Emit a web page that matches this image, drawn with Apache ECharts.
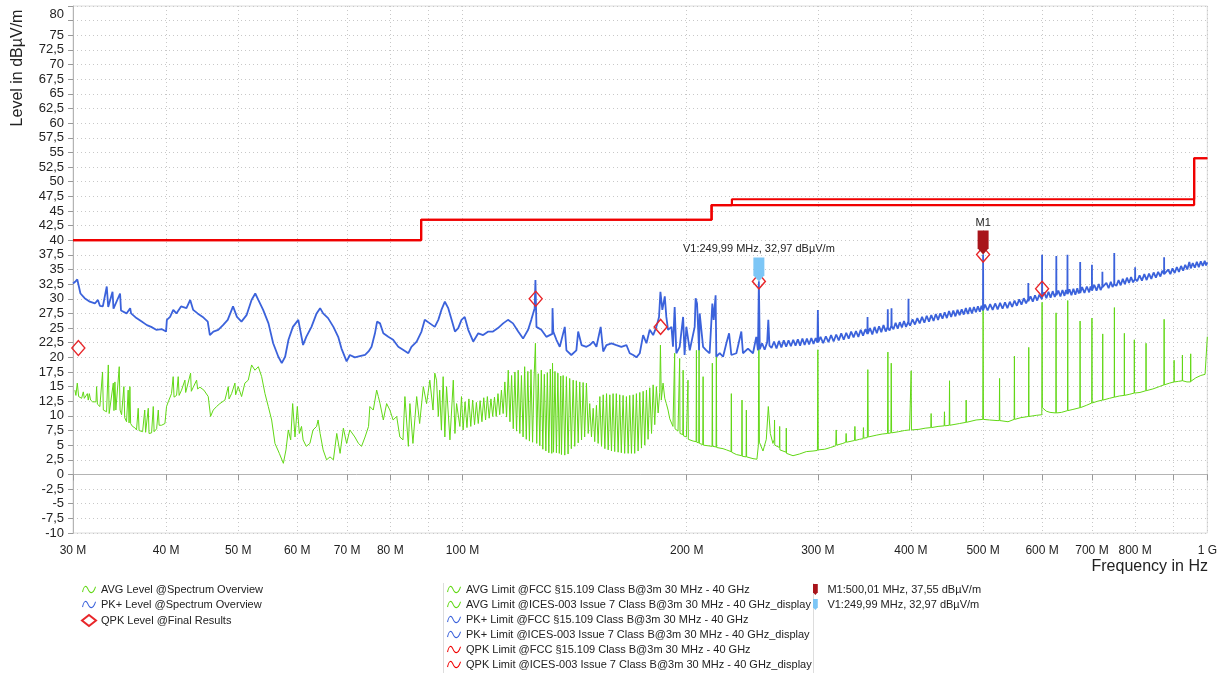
<!DOCTYPE html>
<html>
<head>
<meta charset="utf-8">
<title>Spectrum overview</title>
<script src="https://cdn.jsdelivr.net/npm/echarts@6/dist/echarts.min.js"></script>
<style>
  html, body { margin: 0; padding: 0; background: #fff; }
  #chart { width: 1220px; height: 675px; }
</style>
</head>
<body>
<div id="chart"></div>
<script>
// frequency in MHz, level in dBµV/m
var gridTicks = [30, 40, 50, 60, 70, 80, 90, 100, 200, 300, 400, 500, 600, 700, 800, 900, 1000];
var labelTicks = [30, 40, 50, 60, 70, 80, 100, 200, 300, 400, 500, 600, 700, 800, 1000];

var pkLevel = [
  [30.0,32.6],[30.2,32.9],[30.4,33.3],[30.7,30.9],[31.1,30.1],[31.6,29.5],[32.1,29.2],[32.4,29.8],[32.6,28.8],[32.9,28.7],
  [33.3,32.1],[33.45,28.6],[33.6,28.4],[33.9,31.2],[34.0,28.3],[34.2,28.1],[34.7,30.9],[34.8,28.0],[34.9,27.8],[35.4,27.5],
  [35.8,28.4],[35.9,27.5],[36.5,26.7],[37.1,26.1],[37.7,25.5],[38.2,25.2],[38.8,24.7],[39.5,24.8],[40.0,24.4],[40.1,26.4],
  [40.5,26.9],[40.9,28.1],[41.3,27.5],[41.9,28.7],[42.6,28.4],[43.1,29.8],[43.5,28.1],[44.1,27.5],[44.8,26.9],[45.5,26.1],
  [45.8,23.8],[46.3,24.4],[47.0,24.7],[47.7,25.5],[48.4,26.4],[49.2,28.7],[49.8,26.9],[50.5,26.1],[51.3,27.2],[52.1,29.8],
  [52.7,30.9],[53.2,29.8],[54.0,28.1],[54.9,25.8],[55.7,22.4],[56.6,20.1],[57.2,19.0],[57.8,20.1],[58.4,23.0],[59.2,25.2],
  [60.2,26.4],[60.8,23.5],[61.1,22.1],[61.7,23.5],[62.7,25.2],[63.7,27.5],[64.4,28.4],[65.0,27.5],[66.0,26.7],[67.1,25.2],
  [68.1,23.5],[68.8,21.5],[69.9,19.3],[70.6,20.4],[71.7,20.0],[72.8,20.2],[74.0,20.4],[74.8,21.0],[75.5,21.8],[76.3,24.1],
  [76.8,26.1],[77.5,25.8],[78.3,24.1],[79.5,23.5],[80.7,23.0],[82.0,21.8],[83.2,21.3],[84.6,20.7],[85.4,21.8],[86.8,22.7],
  [88.1,24.4],[89.0,26.4],[90.4,25.8],[91.8,25.2],[92.8,26.4],[93.7,28.1],[94.7,29.5],[95.7,28.4],[96.7,26.4],[97.7,24.4],
  [98.7,25.0],[99.7,26.4],[100.7,26.9],[101.8,24.7],[103.4,22.7],[105.0,24.1],[106.6,23.8],[108.3,24.4],[109.9,24.4],[111.6,25.0],
  [113.4,25.8],[115.1,26.4],[116.9,25.8],[118.8,24.4],[120.6,23.2],[122.5,24.7],[123.7,26.4],[125.0,28.4],[125.3,33.2],[125.7,25.2],
  [127.6,24.7],[129.6,23.5],[132.0,24.0],[132.1,28.4],[132.4,24.4],[133.7,23.0],[135.1,21.8],[137.2,25.2],[137.9,21.2],[140.0,20.4],
  [142.2,21.2],[143.0,24.4],[144.5,22.1],[146.7,21.8],[148.2,22.1],[149.8,22.7],[151.3,21.8],[153.3,25.2],[154.5,21.0],[156.1,22.1],
  [158.5,22.4],[160.9,22.1],[163.4,21.8],[166.0,22.1],[167.7,20.7],[169.5,20.4],[171.2,20.0],[173.0,20.7],[174.8,23.8],[176.6,22.4],
  [178.4,24.7],[180.3,23.8],[182.1,25.2],[183.6,26.9],[184.4,31.2],[185.5,28.1],[186.9,30.4],[187.8,26.9],[188.8,24.7],[190.8,25.2],
  [191.7,21.8],[192.7,28.6],[193.7,20.7],[195.7,21.8],[197.8,26.9],[198.7,20.4],[199.8,25.2],[201.9,21.2],[205.0,25.2],[205.6,30.1],
  [206.5,29.2],[207.8,21.2],[208.2,27.5],[210.4,21.8],[212.5,21.2],[214.7,20.7],[216.5,29.2],[217.4,26.4],[218.7,30.6],[219.2,20.1],
  [221.5,20.7],[223.8,20.1],[226.1,22.4],[228.0,24.1],[229.6,20.4],[233.2,20.7],[236.8,24.4],[238.0,20.7],[241.7,21.5],[245.5,20.7],
  [248.0,23.5],[249.3,21.2],[250.0,32.97],[250.7,21.4],[252.5,22.4],[254.5,21.3],[256.5,22.6],[257.4,26.4],[258.3,22.0],[260,21.6],
  [262,22.7],[264,21.5],[266,22.8],[268,21.7],[270,22.9],[272,21.8],[274,22.9],[276,21.9],[278,23.0],[280,22.0],
  [282,23.1],[284,22.0],[286,23.2],[288,22.1],[290,23.2],[292,22.2],[294,23.3],[296,22.3],[298,23.3],[299.6,22.5],
  [300.0,28.1],[300.4,22.6],[302.5,23.5],[305,22.4],[307.5,23.6],[310,22.6],[312.5,23.8],[315,22.7],[317.5,23.9],[320,22.9],
  [322.5,24.1],[325,23.0],[327.5,24.2],[330,23.2],[332.5,24.4],[335,23.4],[337.5,24.5],[340,23.5],[342.5,24.7],[345,23.7],
  [347.5,24.8],[349.6,24.0],[349.8,26.9],[350.0,24.0],[352.5,25.0],[355,23.9],[357.5,25.2],[360,24.1],[362.5,25.3],[365,24.3],
  [367.5,25.5],[370,24.4],[372.2,25.2],[372.4,28.2],[372.6,25.0],[374.5,24.6],[376.5,25.4],[376.7,28.4],[376.9,25.3],[379,24.8],
  [381.5,25.9],[384,24.9],[386.5,26.0],[389,25.1],[391.5,26.2],[394,25.2],[396.8,26.1],[397.0,30.0],[397.2,25.9],[399,25.4],
  [402,26.5],[405,25.6],[408,26.7],[411,25.8],[414,26.9],[417,25.9],[420,27.1],[423,26.1],[426,27.2],[429,26.2],
  [432,27.4],[435,26.4],[438,27.5],[441,26.6],[444,27.7],[447,26.7],[450,27.9],[453,26.9],[456,28.0],[459,27.0],
  [462,28.1],[465,27.2],[468,28.2],[471,27.3],[474,28.4],[477,27.4],[480,28.5],[483,27.5],[486,28.6],[489,27.7],
  [492,28.7],[495,27.8],[497.5,28.8],[499.8,28.0],[500.0,37.55],[500.2,28.1],[503,29.0],[507,28.0],[511,29.1],[515,28.1],
  [519,29.2],[523,28.2],[527,29.3],[531,28.3],[535,29.4],[539,28.4],[543,29.5],[547,28.6],[551,29.7],[555,28.8],
  [559,29.9],[563,29.0],[567,30.1],[571,29.2],[574.8,30.0],[575.0,32.7],[575.2,29.6],[579,30.4],[583,29.5],[587,30.6],
  [591,29.7],[595,30.7],[599.8,29.9],[600.0,37.5],[600.2,30.3],[604,31.1],[608,30.1],[612,31.2],[616,30.2],[620,31.3],
  [624,30.3],[626.8,31.0],[627.0,37.3],[627.2,30.6],[631,31.4],[635,30.4],[639,31.5],[643,30.5],[646,31.5],[648.8,30.8],
  [649.0,37.5],[649.2,30.8],[653,31.6],[657,30.6],[661,31.7],[665,30.7],[669,31.8],[672,30.9],[674.8,31.5],[675.0,36.3],
  [675.2,31.0],[679,32.0],[684,31.0],[689,32.1],[694,31.1],[697,32.1],[699.8,31.4],[700.0,35.8],[700.2,31.4],[705,32.4],
  [710,31.4],[715,32.5],[719,31.5],[722.8,32.1],[723.0,34.6],[723.2,32.0],[727,31.7],[732,32.7],[737,31.8],[742,32.9],
  [746,32.0],[749.8,32.6],[750.0,37.8],[750.2,32.5],[755,32.2],[760,33.2],[765,32.3],[770,33.4],[775,32.5],[780,33.6],
  [785,32.7],[790,33.7],[795,32.8],[799.8,33.4],[800.0,35.4],[800.2,33.4],[805,33.0],[811,34.0],[817,33.1],[823,34.2],
  [829,33.2],[835,34.3],[841,33.4],[847,34.5],[853,33.6],[859,34.6],[865,33.8],[870,34.8],[874.8,34.2],[875.0,37.1],
  [875.2,34.2],[880,34.1],[886,35.0],[892,34.2],[898,35.2],[904,34.4],[910,35.4],[916,34.6],[922,35.6],[928,34.8],
  [934,35.8],[940,35.0],[945.9,36.3],[950,35.2],[956,36.1],[962,35.3],[968,36.3],[974,35.4],[980,36.4],[986,35.6],
  [992,36.5],[996,35.7],[1000,36.2]
];

var avgLevel = [
  [30.18,14.4],[30.27,13.5],[30.40,15.6],[30.53,13.3],[30.65,13.5],[30.81,13.0],[30.97,14.1],[31.07,13.0],[31.13,13.2],[31.36,13.8],
  [31.45,12.7],[31.55,13.8],[31.68,12.7],[31.88,12.4],[32.05,12.2],[32.21,12.4],[32.27,15.0],[32.35,12.0],[32.60,11.6],[32.77,11.3],
  [32.87,17.5],[32.95,11.0],[33.01,10.9],[33.28,10.7],[33.46,18.7],[33.55,10.4],[33.63,10.5],[33.98,15.6],[34.05,10.9],[34.15,15.8],
  [34.25,11.0],[34.33,11.1],[34.61,18.4],[34.70,11.0],[34.86,10.2],[35.11,15.0],[35.20,9.7],[35.40,9.0],[35.58,14.4],[35.68,8.8],
  [35.77,15.0],[35.85,8.7],[36.06,8.2],[36.30,8.0],[36.51,7.6],[36.70,11.3],[36.80,7.5],[36.89,7.4],[37.20,7.3],[37.45,11.0],
  [37.55,7.2],[37.66,7.0],[37.86,11.3],[37.95,7.0],[38.25,7.1],[38.45,11.6],[38.55,7.3],[38.85,7.8],[39.05,11.0],[39.15,8.4],
  [39.45,8.4],[39.86,8.7],[40.0,8.6],[40.06,11.6],[40.27,12.4],[40.68,13.8],[40.89,16.7],[41.0,13.2],[41.32,13.5],[41.53,16.7],
  [41.65,13.5],[41.96,14.4],[42.40,16.1],[42.5,14.0],[42.62,13.8],[43.15,17.3],[43.25,14.2],[43.51,14.9],[43.96,16.1],[44.1,14.6],
  [44.41,14.9],[44.96,14.4],[45.57,13.3],[45.90,9.9],[46.28,11.0],[46.76,11.6],[47.24,12.1],[47.98,12.7],[48.48,15.0],[48.6,12.9],
  [48.98,13.8],[49.49,15.6],[49.6,13.6],[50.00,15.0],[50.52,13.3],[51.04,15.6],[51.57,16.1],[52.11,18.7],[52.65,17.8],[53.20,18.4],
  [53.75,16.7],[54.31,13.8],[54.87,11.6],[55.44,9.3],[56.01,5.3],[56.77,3.6],[57.48,1.9],[57.95,4.2],[58.37,7.6],[58.80,5.9],
  [59.16,12.1],[59.59,6.4],[60.02,11.6],[60.39,7.0],[60.8,8.2],[61.1,5.9],[61.7,4.8],[62.4,5.3],[63.0,7.6],[63.7,8.2],
  [64.0,9.3],[64.4,7.0],[65.0,4.2],[65.7,2.5],[66.4,3.0],[67.1,2.5],[67.8,7.0],[68.5,3.6],[69.2,7.9],[69.9,5.3],
  [70.6,7.6],[71.7,6.4],[72.5,5.3],[73.2,4.8],[74.0,6.4],[74.8,8.2],[75.1,11.6],[75.9,11.0],[76.7,14.4],[77.1,13.3],
  [77.5,12.1],[78.3,9.3],[79.1,12.1],[79.9,11.0],[80.7,9.3],[81.6,9.9],[82.4,6.4],[83.2,5.9],[83.7,13.3],[84.6,4.8],
  [85.0,12.1],[85.8,5.3],[86.8,13.3],[87.6,8.7],[88.6,15.0],[89.5,12.1],[90.4,16.1],[91.3,11.0],[91.8,17.3],[92.3,16.1],
  [92.8,9.9],[93.2,14.4],[93.7,7.6],[94.2,16.7],[94.7,6.4],[95.2,15.0],[96.2,5.9],[97.2,16.1],[97.7,7.0],[98.2,12.1],
  [99.2,8.2],[99.7,13.3],[100.2,7.6],[100.8,12.4],[101.4,8.0],[102.0,12.9],[102.6,8.2],[103.2,12.7],[103.8,8.5],[104.4,12.3],
  [105.0,8.7],[105.6,12.6],[106.2,9.0],[106.8,13.1],[107.4,9.3],[108.0,13.3],[108.6,9.6],[109.2,12.9],[109.8,9.9],[110.4,13.2],
  [111.0,9.9],[111.6,13.8],[112.2,10.2],[112.8,14.4],[113.4,10.4],[114.0,15.8],[114.6,9.8],[115.2,17.8],[115.8,9.0],[116.4,16.9],
  [117.0,7.8],[117.6,17.5],[118.2,7.4],[118.8,17.8],[119.4,7.0],[120.0,16.9],[120.6,6.4],[121.2,18.4],[121.8,6.0],[122.4,17.6],
  [123.0,5.7],[123.6,17.9],[124.2,5.5],[124.8,16.8],[125.3,22.4],[125.8,5.3],[126.4,17.2],[127.0,4.9],[127.6,17.8],[128.2,4.3],
  [128.8,17.1],[129.4,4.0],[130.0,17.4],[130.6,3.7],[131.2,18.0],[131.8,3.6],[132.1,19.0],[132.5,3.8],[133.1,17.6],[133.7,3.7],
  [134.3,17.3],[134.9,3.6],[135.5,16.8],[135.8,3.4],[136.5,16.9],[137.2,3.3],[137.9,16.7],[138.6,3.5],[139.3,16.4],[140.0,4.4],
  [140.8,16.1],[141.5,4.8],[142.2,16.0],[143.0,5.4],[143.7,15.8],[144.5,5.9],[145.2,15.7],[145.9,6.4],[146.7,15.6],[147.5,7.0],
  [148.2,12.1],[149.0,6.4],[149.8,11.3],[150.5,5.6],[151.3,11.8],[152.1,5.3],[152.9,13.3],[153.7,4.8],[154.5,13.6],[155.3,4.4],
  [156.1,13.8],[156.9,4.2],[157.7,13.6],[158.5,4.0],[159.3,13.8],[160.1,3.9],[160.9,13.8],[161.8,3.8],[162.6,13.6],[163.4,3.7],
  [164.3,13.5],[165.1,3.6],[166.0,13.3],[166.9,3.6],[167.7,13.5],[168.6,3.6],[169.5,13.6],[170.3,3.6],[171.2,13.8],[172.1,4.0],
  [173.0,14.0],[173.9,4.5],[174.8,14.2],[175.7,5.0],[176.6,14.4],[177.5,6.0],[178.4,14.8],[179.4,7.0],[180.3,15.3],[181.2,8.5],
  [182.1,15.0],[183.1,10.5],[184.0,14.0],[184.4,22.1],[184.9,12.7],[185.9,15.6],[186.9,13.0],[187.8,12.1],[188.8,11.0],[189.8,9.5],
  [191.7,8.2],[192.5,7.9],[192.7,20.7],[192.9,7.8],[194.7,7.4],[195.5,7.2],[195.7,19.8],[195.9,7.0],[197.6,6.8],[197.8,17.8],
  [198.0,6.6],[199.8,6.4],[200.6,6.2],[200.8,16.1],[201.0,6.0],[204.0,5.7],[205.9,5.6],[206.1,21.2],[206.3,5.5],[207.6,5.4],
  [207.8,21.8],[208.0,5.3],[210.2,5.1],[210.4,16.7],[210.6,5.0],[213.6,4.9],[216.3,4.8],[216.5,19.0],[216.7,4.8],[219.0,4.7],
  [219.2,21.2],[219.4,4.6],[223.8,4.4],[226.1,4.2],[229.4,3.9],[229.6,13.8],[229.8,3.8],[233.2,3.4],[237.1,3.2],[237.3,12.7],
  [237.5,3.1],[240.3,3.0],[240.5,11.0],[240.7,3.0],[245.5,2.7],[248.5,2.6],[249.6,5.0],[250.0,29.8],[250.4,5.5],[253.2,4.0],
  [255.8,6.0],[257.4,11.6],[259.0,7.0],[261.1,5.3],[262.2,6.0],[262.4,9.3],[262.6,5.0],[266.4,4.6],[266.6,8.2],[266.8,4.2],
  [271.9,3.8],[272.1,7.9],[272.3,3.6],[277.8,3.2],[283.6,3.5],[289.5,3.9],[295.5,4.0],[299.6,4.1],[300.0,21.3],[300.4,4.2],
  [306.3,4.3],[312.0,4.6],[317.0,4.9],[317.5,7.6],[318.0,5.0],[324.1,5.3],[327.0,5.5],[327.4,7.0],[327.8,5.5],[336.0,5.8],
  [336.4,8.2],[336.8,5.8],[341.3,6.0],[345.0,6.1],[345.4,8.0],[345.8,6.2],[349.6,6.3],[350.1,17.9],[350.6,6.4],[359.3,6.7],
  [366.0,6.9],[372.1,7.0],[372.5,20.9],[372.9,7.0],[376.0,7.1],[376.4,19.0],[376.8,7.1],[385.0,7.3],[392.0,7.5],[398.3,7.6],
  [399.9,7.6],[400.3,17.7],[400.7,7.6],[410.0,7.7],[418.0,7.9],[425.4,8.0],[425.8,10.4],[426.2,8.0],[435.0,8.2],[443.3,8.3],
  [443.7,10.7],[444.1,8.3],[450.3,8.4],[450.7,16.0],[451.1,8.4],[465.0,8.7],[474.1,8.9],[474.5,12.7],[474.9,8.9],[489.3,9.3],
  [499.5,9.4],[500.0,28.5],[500.5,9.4],[510.0,9.3],[522.0,9.2],[525.7,9.2],[526.1,16.4],[526.5,9.2],[540.0,9.0],[550.4,9.4],
  [550.8,20.2],[551.2,9.4],[562.0,9.7],[575.4,9.9],[575.8,21.7],[576.2,9.9],[590.0,10.1],[599.5,10.2],[600.0,29.4],[600.5,11.4],
  [608.0,10.8],[615.0,10.6],[626.1,10.5],[626.5,27.6],[626.9,10.5],[637.0,10.6],[649.1,10.9],[649.5,29.7],[649.9,10.9],[660.0,11.1],
  [674.4,11.4],[674.8,26.2],[675.2,11.4],[688.0,11.8],[699.6,12.2],[700.0,26.7],[700.4,12.2],[712.0,12.5],[723.3,12.7],[723.7,24.0],
  [724.1,12.7],[738.8,13.0],[749.9,13.2],[750.3,28.5],[750.7,13.2],[762.0,13.4],[773.4,13.5],[773.8,24.1],[774.2,13.5],[787.0,13.7],
  [797.6,13.9],[798.0,23.0],[798.4,13.9],[812.0,14.0],[827.0,14.3],[827.4,22.4],[827.8,14.3],[845.0,14.6],[862.0,15.0],[874.6,15.3],
  [875.0,26.5],[875.4,15.3],[890.0,15.6],[902.0,15.8],[902.4,19.5],[902.8,15.8],[915.0,15.9],[925.5,16.0],[925.9,20.4],[926.3,16.0],
  [939.0,15.8],[949.5,15.8],[949.9,20.6],[950.3,15.9],[965.0,16.5],[980.0,16.9],[993.0,17.1],[999.0,17.3],[1000.0,23.5]
];

var qpkResults = [[30.5,21.6],[125.4,30.0],[184.5,25.2],[250.0,32.97],[500.0,37.55],[600.0,31.7]];

var qpkLimitFcc = [[30,40],[88,40],[88,43.5],[216,43.5],[216,46],[960,46],[960,54],[1000,54]];
var qpkLimitIces = [[30,40],[88,40],[88,43.5],[216,43.5],[216,46],[230,46],[230,47],[960,47],[960,54],[1000,54]];

var markerM1 = [500.01, 37.55];
var markerV1 = [249.99, 32.97];

var names = {
  avg: 'AVG Level @Spectrum Overview',
  pk: 'PK+ Level @Spectrum Overview',
  qpk: 'QPK Level @Final Results',
  avgFcc: 'AVG Limit @FCC §15.109 Class B@3m 30 MHz - 40 GHz',
  avgIces: 'AVG Limit @ICES-003 Issue 7 Class B@3m 30 MHz - 40 GHz_display',
  pkFcc: 'PK+ Limit @FCC §15.109 Class B@3m 30 MHz - 40 GHz',
  pkIces: 'PK+ Limit @ICES-003 Issue 7 Class B@3m 30 MHz - 40 GHz_display',
  qpkFcc: 'QPK Limit @FCC §15.109 Class B@3m 30 MHz - 40 GHz',
  qpkIces: 'QPK Limit @ICES-003 Issue 7 Class B@3m 30 MHz - 40 GHz_display',
  m1: 'M1:500,01 MHz, 37,55 dBµV/m',
  v1: 'V1:249,99 MHz, 32,97 dBµV/m'
};

var GREEN = '#62d816', BLUE = '#3b62db', RED = '#f00000', QPK_RED = '#e8262a';
var M1_COL = '#a8141a', V1_COL = '#7cc6f6';
var FONT = '"Liberation Sans", Arial, sans-serif';

var wave = 'path://M0,9 C2,1 5,0 7,5 C9,10 12,12 15,3 L16,3.6 C13,13.5 8.4,12 6,5.6 C4.4,1.8 2.2,2.8 1.2,9.4 Z';
var pin = 'path://M0,0 L10,0 L10,17 L5,23 L0,17 Z';

var chart = echarts.init(document.getElementById('chart'));

var legendText = { fontSize: 11, color: '#222', fontFamily: FONT };
function legendBox(left, items) {
  return {
    left: left, top: 584, orient: 'vertical', padding: 0, itemWidth: 14, itemHeight: 11, itemGap: 4,
    textStyle: legendText, selectedMode: false, data: items
  };
}

var option = {
  animation: false,
  backgroundColor: '#fff',
  grid: { left: 73, right: 12, top: 6, bottom: 142, show: true, borderColor: '#dcdcdc', borderWidth: 1 },
  xAxis: {
    type: 'log',
    logBase: 10,
    min: 30,
    max: 1000,
    axisLine: { lineStyle: { color: '#b4b4b4' } },
    axisTick: { customValues: gridTicks, length: 6, lineStyle: { color: '#999' } },
    axisLabel: {
      customValues: labelTicks,
      margin: 12,
      fontSize: 12,
      color: '#222',
      fontFamily: FONT,
      formatter: function (v) { return Math.round(v) >= 1000 ? '1 G' : Math.round(v) + ' M'; }
    },
    splitLine: { show: true, lineStyle: { color: '#c8c8c8', type: [1, 3] } }
  },
  yAxis: {
    type: 'value',
    min: -10,
    max: 80,
    interval: 2.5,
    axisLine: { show: true, lineStyle: { color: '#b4b4b4' } },
    axisTick: { show: true, length: 5, lineStyle: { color: '#999' } },
    axisLabel: {
      margin: 9,
      fontSize: 13,
      color: '#222',
      fontFamily: FONT,
      formatter: function (v) {
        if (v === 80) return '{t|80}';
        if (v === 77.5) return '';
        return String(v).replace('.', ',');
      },
      rich: { t: { fontSize: 13, color: '#222', fontFamily: FONT, padding: [16, 0, 0, 0] } }
    },
    splitLine: { show: true, lineStyle: { color: '#c8c8c8', type: [1, 3] } }
  },
  legend: [
    legendBox(81, [
      { name: names.avg, icon: wave },
      { name: names.pk, icon: wave },
      { name: names.qpk, icon: 'emptyDiamond', itemStyle: { color: QPK_RED } }
    ]),
    legendBox(447, [
      { name: names.avgFcc, icon: wave },
      { name: names.avgIces, icon: wave },
      { name: names.pkFcc, icon: wave },
      { name: names.pkIces, icon: wave },
      { name: names.qpkFcc, icon: wave },
      { name: names.qpkIces, icon: wave }
    ]),
    legendBox(813, [
      { name: names.m1, icon: pin },
      { name: names.v1, icon: pin }
    ])
  ],
  graphic: [
    {
      type: 'text', x: 18, y: 68, rotation: Math.PI / 2,
      style: { text: 'Level in dBµV/m', font: '16px ' + FONT, fill: '#222', align: 'center', verticalAlign: 'middle' }
    },
    {
      type: 'text', right: 12, top: 559,
      style: { text: 'Frequency in Hz', font: '16px ' + FONT, fill: '#222' }
    },
    { type: 'line', shape: { x1: 443.5, y1: 583, x2: 443.5, y2: 673 }, style: { stroke: '#dddddd', lineWidth: 1 } },
    { type: 'line', shape: { x1: 813.5, y1: 583, x2: 813.5, y2: 673 }, style: { stroke: '#dddddd', lineWidth: 1 } }
  ],
  series: [
    { name: names.avgFcc, type: 'line', data: [], color: GREEN },
    { name: names.avgIces, type: 'line', data: [], color: GREEN },
    { name: names.pkFcc, type: 'line', data: [], color: BLUE },
    { name: names.pkIces, type: 'line', data: [], color: BLUE },
    {
      name: names.qpkFcc, type: 'line', data: qpkLimitFcc, color: RED, showSymbol: false, z: 3,
      lineStyle: { color: RED, width: 2.2 }
    },
    {
      name: names.qpkIces, type: 'line', data: qpkLimitIces, color: RED, showSymbol: false, z: 3,
      lineStyle: { color: RED, width: 2.2 }
    },
    {
      name: names.avg, type: 'line', data: avgLevel, color: GREEN, showSymbol: false, z: 4,
      lineStyle: { color: GREEN, width: 1 }
    },
    {
      name: names.pk, type: 'line', data: pkLevel, color: BLUE, showSymbol: false, z: 5,
      lineStyle: { color: BLUE, width: 1.8 }
    },
    {
      name: names.qpk, type: 'scatter', data: qpkResults, symbol: 'diamond', symbolSize: [13, 15], z: 6,
      itemStyle: { color: 'rgba(0,0,0,0)', borderColor: QPK_RED, borderWidth: 1.4, opacity: 1 }
    },
    {
      name: names.m1, type: 'scatter', data: [markerM1], symbol: pin, symbolSize: [11, 24], symbolKeepAspect: false,
      symbolOffset: [0, '-50%'], z: 7, color: M1_COL, itemStyle: { color: M1_COL, opacity: 1 },
      label: { show: true, position: 'top', distance: 2, formatter: 'M1', fontSize: 11, color: '#222', fontFamily: FONT }
    },
    {
      name: names.v1, type: 'scatter', data: [markerV1], symbol: pin, symbolSize: [11, 24], symbolKeepAspect: false,
      symbolOffset: [0, '-50%'], z: 7, color: V1_COL, itemStyle: { color: V1_COL, opacity: 1 },
      label: { show: true, position: 'top', distance: 3, formatter: names.v1, fontSize: 11, color: '#222', fontFamily: FONT }
    }
  ]
};

chart.setOption(option);
</script>
</body>
</html>
